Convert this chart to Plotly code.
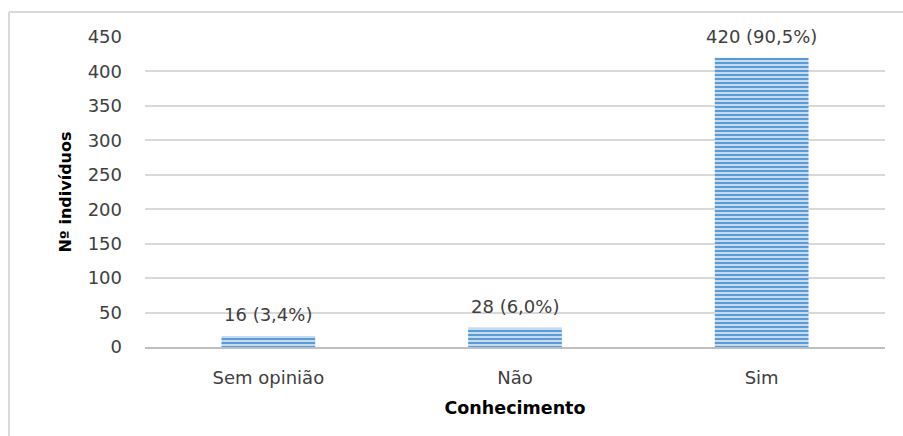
import plotly.graph_objects as go

categories = ["Sem opinião", "Não", "Sim"]
counts = [16, 28, 420]
percents = ["3,4%", "6,0%", "90,5%"]
y_ticks = [0, 50, 100, 150, 200, 250, 300, 350, 400, 450]

labels = [f"{c} ({p})" for c, p in zip(counts, percents)]

W, H = 903, 436
L, R, T, B = 145, 18, 37, 89
pw, ph = W - L - R, H - T - B

FONT = "DejaVu Sans"
TXT = "#404040"

fig = go.Figure(
    go.Bar(
        x=categories,
        y=counts,
        width=0.38,
        marker=dict(
            color="#5b9bd5",
            line=dict(width=0),
            pattern=dict(
                shape="-",
                fgcolor="#5b9bd5",
                bgcolor="#c5dcf0",
                size=4,
                solidity=0.5,
                fillmode="replace",
            ),
        ),
    )
)

# value labels above each bar
for cat, val, lab in zip(categories, counts, labels):
    fig.add_annotation(x=cat, y=val, text=lab, showarrow=False,
                       yanchor="middle", yshift=21,
                       font=dict(family=FONT, size=18, color=TXT))

# outer frame (top and left edges)
fx0 = (9 - L) / pw
fy1 = (H - B - 12) / ph
fig.add_shape(type="line", xref="paper", yref="paper",
              x0=fx0, x1=(W - L) / pw + 0.01, y0=fy1, y1=fy1,
              line=dict(color="#d9d9d9", width=2))
fig.add_shape(type="line", xref="paper", yref="paper",
              x0=fx0, x1=fx0, y0=fy1, y1=-(B + 5) / ph,
              line=dict(color="#d9d9d9", width=2))

fig.update_layout(
    width=W,
    height=H,
    margin=dict(l=L, r=R, t=T, b=B),
    paper_bgcolor="white",
    plot_bgcolor="white",
    showlegend=False,
    font=dict(family=FONT, size=18, color=TXT),
    xaxis=dict(
        title=dict(text="<b>Conhecimento</b>", standoff=15,
                   font=dict(family=FONT, size=17.5, color="black")),
        showgrid=False,
        showline=True,
        linecolor="#bfbfbf",
        linewidth=2,
        ticks="",
        ticklabelstandoff=13,
        tickfont=dict(family=FONT, size=18, color=TXT),
    ),
    yaxis=dict(
        title=dict(text="<b>Nº indivíduos</b>", standoff=12,
                   font=dict(family=FONT, size=16, color="black")),
        range=[0, 450],
        tickvals=y_ticks,
        showgrid=True,
        gridcolor="#d9d9d9",
        gridwidth=1.5,
        zeroline=False,
        showline=False,
        ticks="",
        ticklabelstandoff=22,
        tickfont=dict(family=FONT, size=18, color=TXT),
    ),
)

fig.write_html("out.html")
